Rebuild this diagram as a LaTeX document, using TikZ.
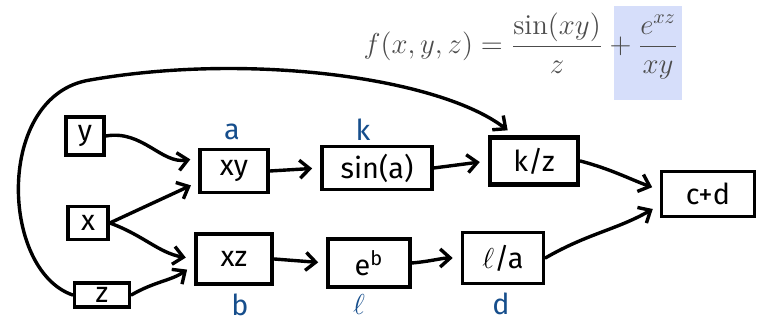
\documentclass[tikz,border=0pt]{standalone}
\usepackage{fontspec}
\setsansfont{Fira Sans}
\usepackage{amsmath}
\usetikzlibrary{arrows.meta}
\definecolor{inkblue}{RGB}{22,78,140}
\definecolor{hilite}{RGB}{214,222,250}
\tikzset{
  opbox/.style={draw, line width=1.8pt, font=\sffamily\Large, inner sep=0pt},
  heavybox/.style={opbox, line width=2.3pt},
  flow/.style={line width=1.7pt, line cap=round, -{Straight Barb[length=5pt,width=9pt]}, shorten >=4pt},
  varname/.style={text=inkblue, font=\sffamily\Large}
}

\begin{document}
\begin{tikzpicture}[x=0.5pt,y=-0.5pt]
\useasboundingbox (0,0) rectangle (761,325);
% formula, last term marked
\fill[hilite] (614,6) rectangle (682,100);
\node[text=black!70, font=\Large] (formula) at (521,46)
  {$f(x,y,z) = \dfrac{\sin(xy)}{z} + \dfrac{e^{xz}}{xy}$};
% inputs
\node[opbox, minimum width=19pt, minimum height=19pt] (y) at (85,136) {y};
\node[opbox, minimum width=20pt, minimum height=16.5pt] (x) at (88,223) {x};
\node[opbox, minimum width=27.5pt, minimum height=12pt] (z) at (102,295) {z};
% first layer
\node[opbox, minimum width=34pt, minimum height=21.5pt] (xy) at (234,171) {xy};
\node[heavybox, minimum width=38pt, minimum height=25pt] (xz) at (234,259) {xz};
% second layer
\node[opbox, minimum width=55pt, minimum height=21.5pt] (sin) at (377,168) {sin(a)};
\node[opbox, minimum width=41pt, minimum height=24pt] (eb) at (369,263) {e\textsuperscript{b}};
% third layer
\node[heavybox, minimum width=44pt, minimum height=23.5pt] (kz) at (534,161) {k/z};
\node[opbox, minimum width=40.5pt, minimum height=25.5pt] (la) at (503,258) {$\ell$/a};
% output
\node[opbox, minimum width=46.5pt, minimum height=22.5pt] (cd) at (708,194) {c+d};
% names of the values
\node[varname] (a) at (232,132) {a};
\node[varname] (k) at (363,130) {k};
\node[varname] (b) at (240,305) {b};
\node[varname] (l) at (359,305) {$\ell$};
\node[varname] (d) at (501,304) {d};
% edges
\draw[flow] (y.east) to[out=10,in=190] ([yshift=6.5pt]xy.west);
\draw[flow] (x.east) to[out=25,in=205] ([yshift=-5.5pt]xy.west);
\draw[flow] (x.east) to[out=-20,in=170] (xz.west);
\draw[flow] (z.east) to[out=30,in=215] ([yshift=-3pt]xz.west);
\draw[flow] (xy.east) -- (sin.west);
\draw[flow] (sin.east) -- (kz.west);
\draw[flow] (xz.east) -- (eb.west);
\draw[flow] (eb.east) to[out=5,in=180] (la.west);
\draw[flow] (kz.east) to[out=-15,in=160] ([yshift=2pt]cd.west);
\draw[flow] (la.east) to[out=30,in=210] ([yshift=-5.5pt]cd.west);
% z goes round to k/z
\draw[flow] (z.west) .. controls (0,270) and (-5,95) .. (90,80)
  .. controls (250,52) and (440,78) .. ([xshift=-10pt]kz.north);
\end{tikzpicture}
\end{document}
